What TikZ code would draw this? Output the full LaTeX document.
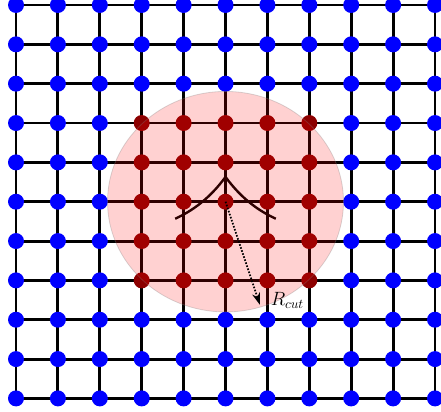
\documentclass[tikz,border=0pt]{standalone}
\usepackage{tikz}
\usetikzlibrary{arrows.meta}

\begin{document}
\begin{tikzpicture}[
      >={Stealth[length=9pt, width=6pt]},
      x=31.43pt, y=29.51pt,
      site/.style={circle, fill=blue, inner sep=0pt, minimum size=12pt},
      bond/.style={line width=2.2pt, black},
      cutzone/.style={fill=red, fill opacity=0.18, draw=gray,
                      draw opacity=0.3, line width=0.6pt}
  ]
      \useasboundingbox (-0.382,-0.343) rectangle (10.143,10.127);
      \clip (-0.382,-0.343) rectangle (10.143,10.127);

      % Rede quadrada
      \foreach \i in {0,...,10}
        \foreach \j in {0,...,10}
          \coordinate (p-\i-\j) at (\i,\j);
      \foreach \k in {0,...,10} {
          \draw[bond] (p-\k-0) -- (p-\k-10);
          \draw[bond] (p-0-\k) -- (p-10-\k);
      }

      % Sitios (vizinhanca em vermelho)
      \foreach \i in {0,...,10}
        \foreach \j in {0,...,10} {
          \pgfmathtruncatemacro\inside{(abs(\i-5)<3)&&(abs(\j-5)<3)}
          \ifnum\inside=1
            \node[site, fill=red!55!black] (s-\i-\j) at (p-\i-\j) {};
          \else
            \node[site] (s-\i-\j) at (p-\i-\j) {};
          \fi
        }

      % Funcao localizada
      \draw[line width=1.8pt, black, domain=-1.2:0, samples=40, variable=\t]
          plot ({5+\t}, {4.03+1.6*exp(\t/1.1)});
      \draw[line width=1.8pt, black, domain=0:1.2, samples=40, variable=\t]
          plot ({5+\t}, {4.03+1.6*exp(-\t/1.1)});

      % Raio de corte
      \path[cutzone] (p-5-5) ellipse [x radius=88.5pt, y radius=82.7pt];
      \coordinate (rc) at (5.82,2.38);
      \draw[->, dash pattern=on 1.2pt off 1.2pt, line width=1.3pt]
          (s-5-5.center) -- (rc);
      \node[anchor=base west, xshift=7pt, yshift=-0.5pt, inner sep=1pt,
            font=\fontsize{14.5}{16}\selectfont] (rlbl) at (rc) {$R_{cut}$};
  \end{tikzpicture}
\end{document}
